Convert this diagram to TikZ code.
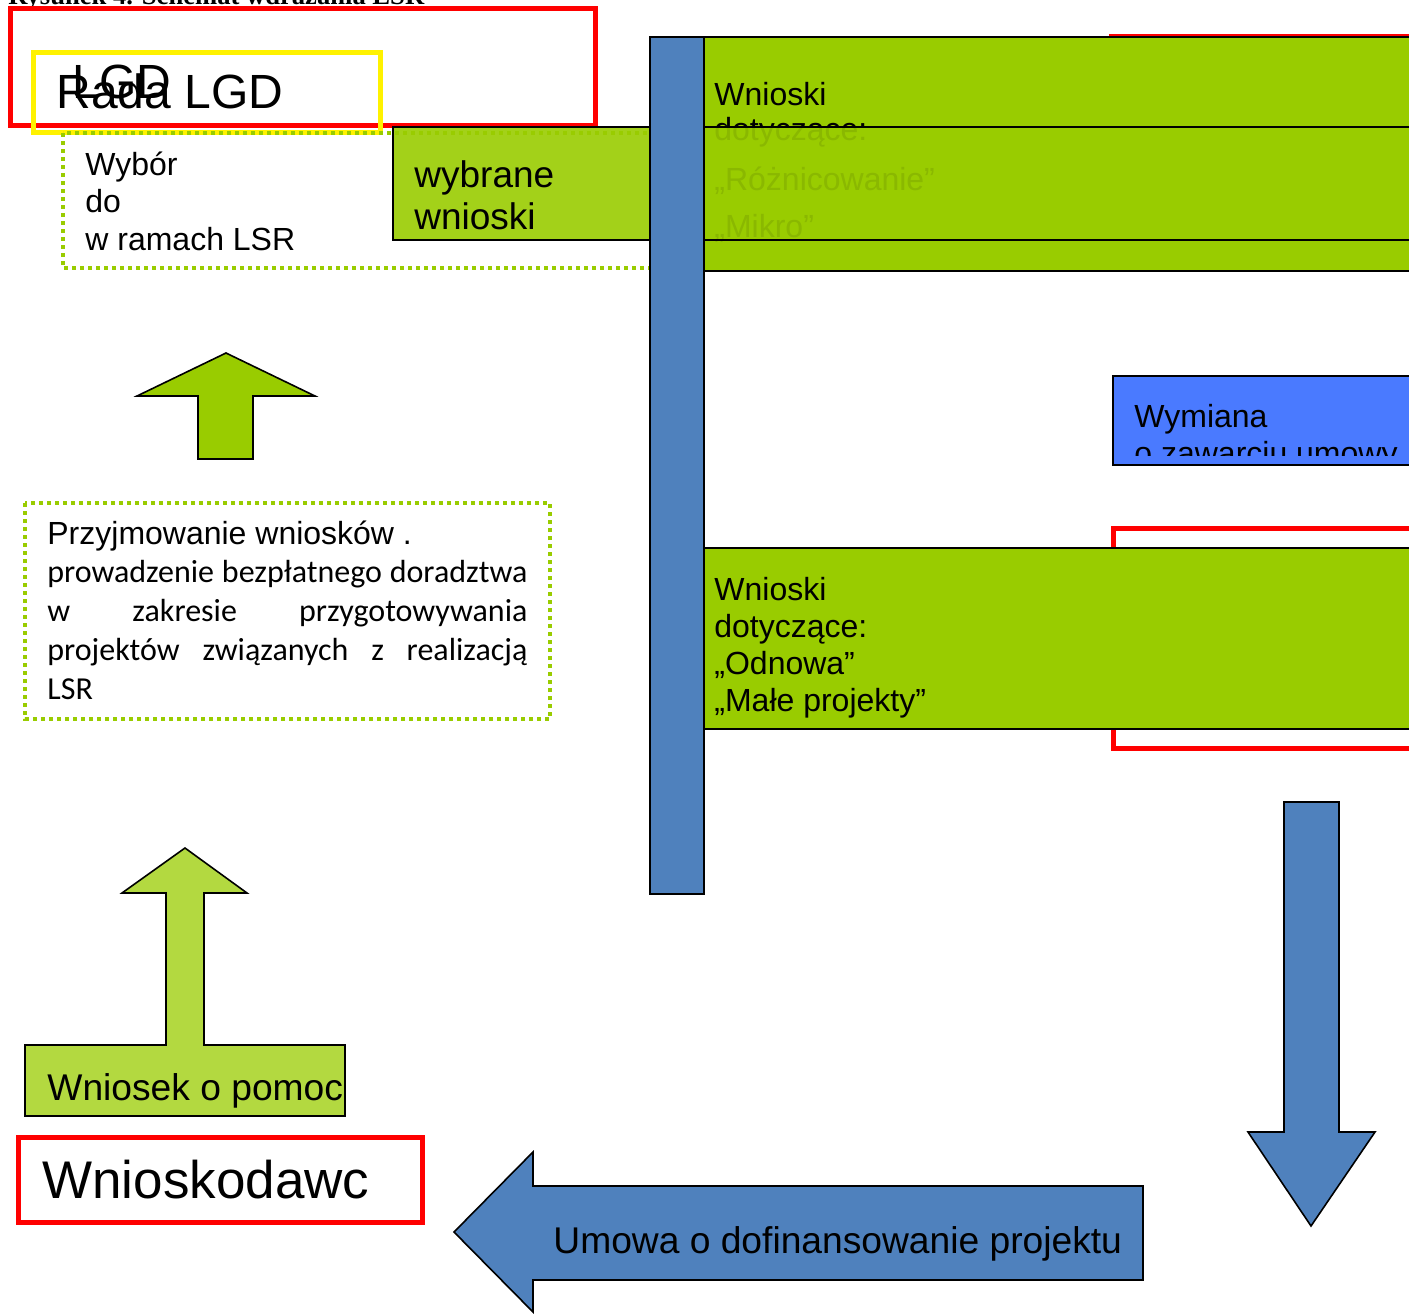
\documentclass[tikz,border=0pt]{standalone}
\usepackage{fontspec}
\setmainfont{Liberation Sans}
\newfontfamily\calibrifont{Carlito}
\newfontfamily\timesfont{Liberation Serif}
\definecolor{wgreen}{RGB}{153,204,0}
\definecolor{wblue}{RGB}{79,129,189}
\definecolor{wbright}{RGB}{74,122,255}

\tikzset{
  box/.style={draw=black, line width=0.8pt},
  redbox/.style={draw=red, line width=2.5pt},
  dotbox/.style={draw=wgreen, line width=2pt, dash pattern=on 2pt off 2pt},
  txt/.style={anchor=base west, inner sep=0pt, font=\fontsize{16}{18.5}\selectfont},
}

\begin{document}
\begin{tikzpicture}[x=0.5pt,y=-0.5pt]
\useasboundingbox (0,0) rectangle (1409,1313);
\clip (0,0) rectangle (1409,1313);

% title, cut off at the top
\node[txt, font=\timesfont\bfseries\fontsize{13.3}{16}\selectfont] (title) at (8,4) {Rysunek 4. Schemat wdrażania LSR};

% LGD
\draw[redbox] (10,8) rectangle (595,125);
\draw[draw=yellow, line width=2.5pt] (33,52) rectangle (380,132);
\node[txt, font=\fontsize{24}{28}\selectfont] (lgd) at (72,98) {LGD};
\node[txt, font=\fontsize{24}{28}\selectfont] (rada) at (56,108) {Rada LGD};

% top right (multi-line nodes sit on their last line)
\draw[redbox] (1111,36) rectangle (1430,250);
\draw[box, fill=wgreen] (704,37) rectangle (1430,271);
\node[txt] (wn1) at (714,105) {Wnioski};
\node[txt] (dot1) at (714,140) {dotyczące:};
\node[txt] (rozn) at (714,190) {„Różnicowanie”};
\node[txt] (mikro) at (714,237) {„Mikro”};

\draw[box, fill=wgreen, fill opacity=0.9] (393,127) rectangle (1430,240);
\node[txt, font=\fontsize{18.5}{21}\selectfont, align=left] (wybrane) at (414,229) {wybrane\\wnioski};

\draw[dotbox] (63,133) rectangle (660,268);
\node[txt, align=left, font=\fontsize{16}{18.75}\selectfont] (wybor) at (85,250) {Wybór\\do\\w ramach LSR};

% blue bar
\draw[box, fill=wblue] (650,37) rectangle (704,894);

\draw[box, fill=wgreen] (226,353) -- (315,396) -- (253,396) -- (253,459) -- (198,459) -- (198,396) -- (137,396) -- cycle;

\draw[dotbox] (25,503) rectangle (550,719);
\node[txt] (przyj) at (47,544) {Przyjmowanie wniosków .};
\node[txt, font=\calibrifont\fontsize{16}{19.5}\selectfont, align=left] (dorad) at (47,699) {\makebox[240pt][s]{prowadzenie bezpłatnego doradztwa}\\\makebox[240pt][s]{w zakresie przygotowywania}\\\makebox[240pt][s]{projektów związanych z realizacją}\\LSR};

% Wymiana
\draw[box, fill=wbright] (1113,376) rectangle (1430,465);
\node[txt] (wym) at (1134,427) {Wymiana};
\begin{scope}
\clip (1113,376) rectangle (1430,455);
\node[txt] (umowy) at (1134,464) {o zawarciu umowy};
\end{scope}

\draw[redbox] (1113,528) rectangle (1430,748);
\draw[box, fill=wgreen] (704,548) rectangle (1430,729);
\node[txt, align=left, font=\fontsize{16}{18.5}\selectfont] (wn2) at (714,711) {Wnioski\\dotyczące:\\„Odnowa”\\„Małe projekty”};

% wniosek
\draw[box, fill=wgreen, fill opacity=0.75] (185,848) -- (247,893) -- (204,893) -- (204,1045) -- (345,1045) -- (345,1116) -- (25,1116) -- (25,1045) -- (166,1045) -- (166,893) -- (122,893) -- cycle;
\node[txt, font=\fontsize{18.6}{22}\selectfont] (wniosek) at (47,1100) {Wniosek o pomoc};

\draw[redbox] (18,1137) rectangle (422,1222);
\node[txt, font=\fontsize{26.5}{30}\selectfont] (wnioskodawca) at (42,1198) {Wnioskodawc};

% blue arrows
\draw[box, fill=wblue] (1284,802) -- (1339,802) -- (1339,1132) -- (1375,1132) -- (1311,1226) -- (1248,1132) -- (1284,1132) -- cycle;
\draw[box, fill=wblue] (454,1232) -- (533,1152) -- (533,1186) -- (1143,1186) -- (1143,1280) -- (533,1280) -- (533,1312) -- cycle;
\node[txt, font=\fontsize{18.6}{22}\selectfont] (umowa) at (553,1253) {Umowa o dofinansowanie projektu};

\end{tikzpicture}
\end{document}
